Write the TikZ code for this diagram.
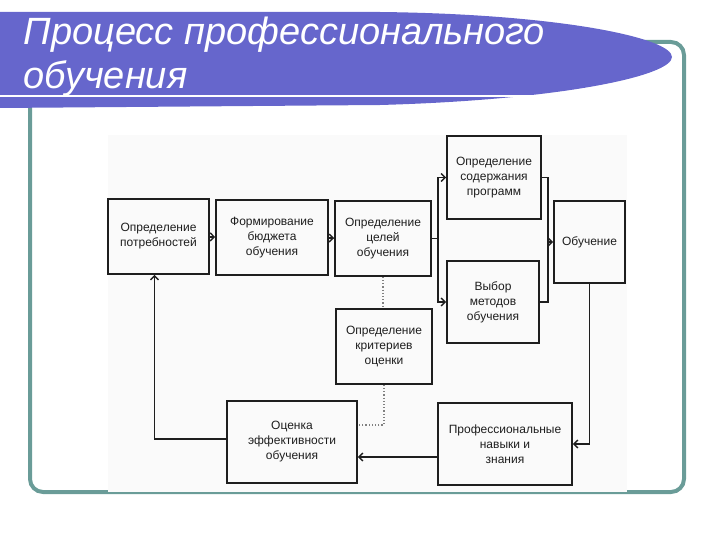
\documentclass[tikz,border=0pt]{standalone}
\usepackage{fontspec}
\usetikzlibrary{arrows.meta}
\setmainfont{Liberation Sans}
\definecolor{banner}{HTML}{6666CC}
\definecolor{frameteal}{HTML}{6A9C98}
\definecolor{ink}{HTML}{1E1E1E}

\begin{document}
\begin{tikzpicture}[x=1pt,y=-1pt,
    box/.style={draw=ink,line width=1.6pt,text=ink,align=center,inner sep=2pt,
      font=\fontsize{12}{15}\selectfont},
    flow/.style={-{Straight Barb[length=4pt,width=8pt,line width=1.4pt]},line width=1.6pt,draw=ink},
    link/.style={line width=1.6pt,draw=ink},
    hint/.style={gray,dotted,line width=1.2pt}]
  \useasboundingbox (0,0) rectangle (720,540);
  % frame and title
  \draw[frameteal,line width=4pt,rounded corners=13pt] (30,42) rectangle (684,492);
  \fill[banner] (0,12) -- (380,12) .. controls (560,14) and (672,38) .. (672,57)
    .. controls (672,76) and (560,100) .. (380,105) -- (0,108) -- cycle;
  \draw[white,line width=2pt] (0,96) -- (545,96);
  \node[anchor=base west,text=white,font=\fontsize{38}{44}\selectfont\itshape] (title1) at (20,45) {Процесс профессионального};
  \node[anchor=base west,text=white,font=\fontsize{38}{44}\selectfont\itshape] (title2) at (20,89) {обучения};
  \fill[gray!4] (108,135) rectangle (627,491.5);

  % boxes
  \node[box,minimum width=101,minimum height=75] (need) at (158.5,236.5) {Определение\\потребностей};
  \node[box,minimum width=112,minimum height=75] (budget) at (272,237.5) {Формирование\\бюджета\\обучения};
  \node[box,minimum width=96,minimum height=75] (goals) at (383,238.5) {Определение\\целей\\обучения};
  \node[box,minimum width=94,minimum height=83] (content) at (494,177.5) {Определение\\содержания\\программ};
  \node[box,minimum width=92,minimum height=82] (methods) at (493,302) {Выбор\\методов\\обучения};
  \node[box,minimum width=71,minimum height=82] (training) at (589.5,242) {Обучение};
  \node[box,minimum width=96,minimum height=75] (criteria) at (384,346.5) {Определение\\критериев\\оценки};
  \node[box,minimum width=134,minimum height=82] (skills) at (505,444) {Профессиональные\\навыки и\\знания};
  \node[box,minimum width=130,minimum height=82] (evaluation) at (292,442) {Оценка\\эффективности\\обучения};
  \coordinate (merge) at (548,242);

  % connectors
  \draw[flow] (need) -- (budget);
  \draw[flow] (budget) -- (goals);
  \draw[flow] (goals.east) -- ++(6,0) |- (content);
  \draw[flow] (goals.east) -- ++(6,0) |- (methods);
  \draw[link] (content.east) -| (merge) |- (methods.east);
  \draw[flow] (merge) -- (training);
  \draw[flow] (training.south) |- (skills.east);
  \draw[flow] ([yshift=-13pt]skills.west) -- ([yshift=-13pt]skills.west -| evaluation.east);
  \draw[flow] ([yshift=3pt]evaluation.west) -| ([xshift=-4pt]need.south);
  \draw[hint] (goals.south) -- (goals.south |- criteria.north);
  \draw[hint] (criteria.south) |- ([yshift=17pt]evaluation.east);
\end{tikzpicture}
\end{document}
